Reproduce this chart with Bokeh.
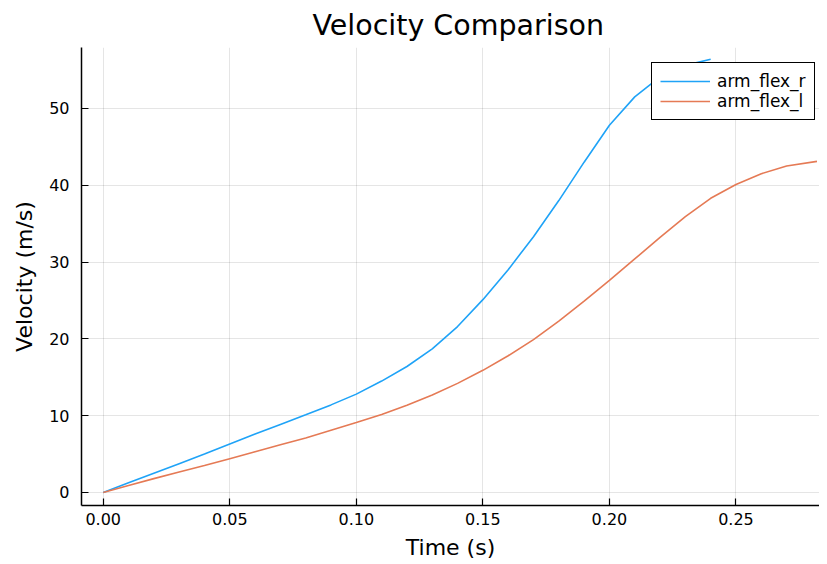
from bokeh.plotting import figure
from bokeh.models import Range1d, FixedTicker, NumeralTickFormatter, Legend, LegendItem, Title, ColumnDataSource
from bokeh.embed import file_html
from bokeh.resources import INLINE

# ---- data ----
time_r = [0.00, 0.01, 0.02, 0.03, 0.04, 0.05, 0.06, 0.07, 0.08, 0.09, 0.10, 0.11, 0.12,
          0.13, 0.14, 0.15, 0.16, 0.17, 0.18, 0.19, 0.20, 0.21, 0.22, 0.23, 0.24]
vel_r = [0.0, 1.25, 2.5, 3.75, 5.0, 6.3, 7.6, 8.85, 10.1, 11.4, 12.8, 14.5, 16.4,
         18.7, 21.6, 25.1, 29.0, 33.3, 38.0, 43.0, 47.8, 51.5, 54.1, 55.6, 56.4]
time_l = [0.00, 0.01, 0.02, 0.03, 0.04, 0.05, 0.06, 0.07, 0.08, 0.09, 0.10, 0.11, 0.12,
          0.13, 0.14, 0.15, 0.16, 0.17, 0.18, 0.19, 0.20, 0.21, 0.22, 0.23, 0.24, 0.25,
          0.26, 0.27, 0.282]
vel_l = [0.0, 0.9, 1.8, 2.65, 3.5, 4.4, 5.3, 6.2, 7.1, 8.1, 9.1, 10.15, 11.35,
         12.7, 14.2, 15.9, 17.8, 19.9, 22.3, 24.9, 27.6, 30.4, 33.2, 35.9, 38.3, 40.1,
         41.5, 42.5, 43.1]
x_ticks = [0.0, 0.05, 0.10, 0.15, 0.20, 0.25]
y_ticks = [0, 10, 20, 30, 40, 50]
labels = ["arm_flex_r", "arm_flex_l"]
title_text = "Velocity Comparison"

FONT = "DejaVu Sans"

p = figure(width=819, height=562, output_backend="svg", toolbar_location=None,
           title=None,
           x_range=Range1d(-0.00858, 0.2830), y_range=Range1d(-1.70, 57.93),
           min_border_left=81, min_border_right=0, min_border_top=47, min_border_bottom=57)
p.outline_line_color = None
p.background_fill_color = "white"

src_r = ColumnDataSource(dict(t=time_r, v=vel_r))
src_l = ColumnDataSource(dict(t=time_l, v=vel_l))
r1 = p.line("t", "v", source=src_r, line_color="#1fa3f7", line_width=1.6)
r2 = p.line("t", "v", source=src_l, line_color="#e57a55", line_width=1.6)

for ax in (p.xaxis[0], p.yaxis[0]):
    ax.axis_line_color = "black"
    ax.axis_line_width = 1.5
    ax.major_tick_line_color = "black"
    ax.major_tick_line_width = 1.2
    ax.major_tick_in = 7
    ax.major_tick_out = 0
    ax.minor_tick_line_color = None
    ax.major_label_text_font = FONT
    ax.major_label_text_font_size = "16px"
    ax.major_label_text_color = "black"
    ax.axis_label_text_font = FONT
    ax.axis_label_text_font_size = "22px"
    ax.axis_label_text_font_style = "normal"
    ax.axis_label_text_color = "black"

p.xaxis[0].ticker = FixedTicker(ticks=x_ticks)
p.xaxis[0].formatter = NumeralTickFormatter(format="0.00")
p.xaxis[0].axis_label = "Time (s)"
p.xaxis[0].major_label_standoff = 7
p.xaxis[0].axis_label_standoff = 7

p.yaxis[0].ticker = FixedTicker(ticks=y_ticks)
p.yaxis[0].axis_label = "Velocity (m/s)"
p.yaxis[0].major_label_standoff = 12
p.yaxis[0].axis_label_standoff = 9

p.xgrid[0].ticker = FixedTicker(ticks=x_ticks)
p.ygrid[0].ticker = FixedTicker(ticks=y_ticks)
for g in (p.xgrid[0], p.ygrid[0]):
    g.grid_line_color = "black"
    g.grid_line_alpha = 0.1
    g.grid_line_width = 1

legend = Legend(items=[LegendItem(label=labels[0], renderers=[r1]),
                       LegendItem(label=labels[1], renderers=[r2])],
                location=(570, 385))
legend.label_text_font = FONT
legend.label_text_font_size = "17px"
legend.label_text_color = "black"
legend.border_line_color = "black"
legend.border_line_width = 1.3
legend.border_line_alpha = 1.0
legend.background_fill_color = "white"
legend.background_fill_alpha = 1.0
legend.padding = 8
legend.spacing = 0
legend.margin = 0
legend.glyph_width = 50
legend.glyph_height = 18
legend.label_height = 18
legend.label_standoff = 7
p.add_layout(legend, "center")

p.add_layout(Title(text=title_text, align="left", offset=231, standoff=11,
                   text_font=FONT, text_font_size="28.5px", text_font_style="normal",
                   text_color="black"), "above")

open("out.html", "w").write(file_html(p, INLINE))
